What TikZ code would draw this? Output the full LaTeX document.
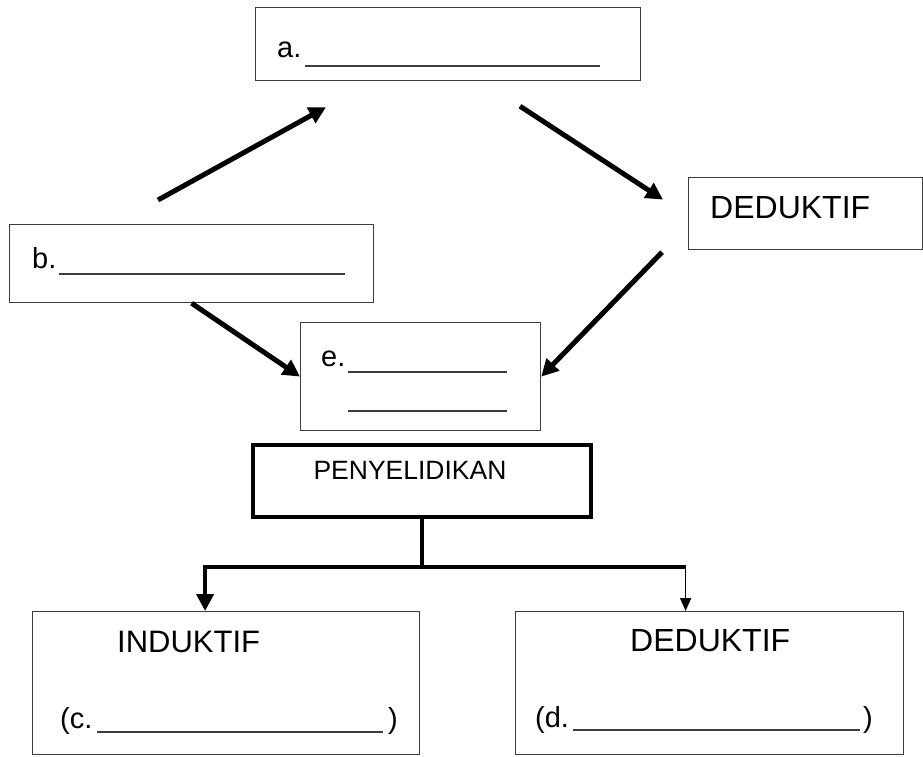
\documentclass[tikz,border=0pt]{standalone}
\usepackage{fontspec}
\setmainfont{Liberation Sans}
\usetikzlibrary{positioning,arrows.meta}
\tikzstyle{sheet} = [x = 1pt, y = -1pt]
\definecolor{lineGray}{RGB}{60,60,60}
\tikzstyle{boxStyle} = [draw=lineGray, line width=1.2pt, anchor=north west, inner sep=0pt]
\tikzstyle{headBoxStyle} = [draw=black, line width=4pt, anchor=north west, inner sep=0pt]
\tikzstyle{bigArrow} = [line width=5pt, -{Triangle[length=17pt,width=17pt]}]
\tikzstyle{thinArrow} = [line width=1.5pt, -{Triangle[length=13pt,width=11pt]}]
\tikzstyle{barLine} = [line width=4pt]
\tikzstyle{letterText} = [font=\fontsize{29}{34}\selectfont, anchor=base west, inner sep=0pt]
\tikzstyle{titleText} = [font=\fontsize{32}{38}\selectfont, anchor=base west, inner sep=0pt]
\tikzstyle{blank} = [draw=lineGray, line width=1.2pt]
\newcommand{\blankLine}[3]{\draw [blank] (#1, #3) -- (#2, #3);}

\begin{document}
\begin{tikzpicture}[sheet]
  \useasboundingbox (0,0) rectangle (923,756);

  % upper cycle
  \node [boxStyle, minimum width=385, minimum height=73] (aBox) at (255,7) {};
  \node [letterText] (aText) at (277,57) {a.};
  \blankLine{305}{600}{66}

  \node [boxStyle, minimum width=364, minimum height=78] (bBox) at (9,224) {};
  \node [letterText] (bText) at (32,268) {b.};
  \blankLine{59}{345}{274}

  \node [boxStyle, minimum width=234, minimum height=72] (dedTop) at (688,177) {};
  \node [titleText] (dedTopText) at (710,218) {DEDUKTIF};

  \node [boxStyle, minimum width=240, minimum height=108] (eBox) at (300,322) {};
  \node [letterText] (eText) at (321,366) {e.};
  \blankLine{348}{507}{372}
  \blankLine{348}{507}{411}

  \draw [bigArrow] ([xshift=149pt,yshift=24pt]bBox.north west) -- ([xshift=71pt,yshift=-26pt]aBox.south west);
  \draw [bigArrow] ([xshift=265pt,yshift=-25pt]aBox.south west) -- ([xshift=-25pt,yshift=14pt]dedTop.west);
  \draw [bigArrow] ([xshift=-26pt,yshift=-2pt]dedTop.south west) -- (eBox.east);
  \draw [bigArrow] (bBox.south) -- (eBox.west);

  % lower tree
  \node [headBoxStyle, minimum width=338, minimum height=72] (penBox) at (251,443) {};
  \node [font=\fontsize{26.5}{31}\selectfont, anchor=base, inner sep=0pt] (penText) at (410,479) {PENYELIDIKAN};

  \node [boxStyle, minimum width=387, minimum height=143] (indBox) at (32,611) {};
  \node [titleText, font=\fontsize{31}{37}\selectfont] (indText) at (117,652) {INDUKTIF};
  \node [letterText] (cText) at (60,728) {(c.};
  \blankLine{97}{383}{732}
  \node [letterText] (cClose) at (388,728) {)};

  \node [boxStyle, minimum width=388, minimum height=143] (dedBox) at (515,611) {};
  \node [titleText] (dedText) at (630,651) {DEDUKTIF};
  \node [letterText] (dText) at (535,727) {(d.};
  \blankLine{573}{860}{730}
  \node [letterText] (dClose) at (863,727) {)};

  \draw [barLine] (penBox.south) -- ++(0,48) coordinate (split);
  \coordinate (indIn) at ([xshift=-21pt]indBox.north);
  \coordinate (dedIn) at ([xshift=-24pt]dedBox.north);
  \draw [bigArrow, line width=4pt] (split) -| (indIn);
  \draw [barLine] (split) -- (dedIn |- split);
  \draw [thinArrow] (dedIn |- split) -- (dedIn);
\end{tikzpicture}
\end{document}
